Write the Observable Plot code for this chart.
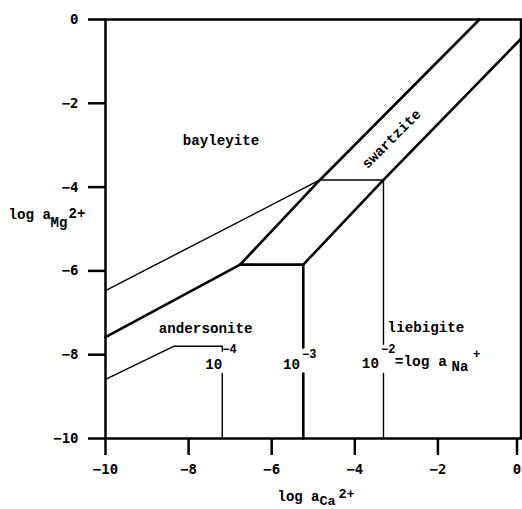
<!DOCTYPE html>
<html>
<head>
<meta charset="utf-8">
<script src="https://cdn.jsdelivr.net/npm/d3@7"></script>
<script src="https://cdn.jsdelivr.net/npm/@observablehq/plot@0.6"></script>
<style>
  html, body { margin: 0; padding: 0; background: #fff; }
</style>
</head>
<body>
<div id="chart"></div>
<script>
// ---- data ----
const xTicks = [-10, -8, -6, -4, -2];
const xTickLast = [0];
const yTicks = [-10, -8, -6, -4, -2, 0];

// thin stability-field boundaries: [log aCa2+, log aMg2+]
const thinBoundaries = [
  [[-10, -6.47], [-4.84, -3.83], [-3.31, -3.83]],
  [[-10, -8.59], [-8.36, -7.80], [-7.19, -7.80], [-7.19, -7.92]],
  [[-7.19, -8.45], [-7.19, -10]],
  [[-3.31, -3.83], [-3.31, -7.75]],
  [[-3.31, -8.45], [-3.31, -10]]
];
// thick boundaries (log aNa+ = -3 and swartzite field)
const thickBoundaries = [
  [[-10, -7.58], [-6.76, -5.85], [-4.84, -3.83], [-1.0, 0]],
  [[-6.76, -5.85], [-5.24, -5.85], [-3.31, -3.83], [0, -0.46]],
  [[-5.24, -5.85], [-5.24, -7.83]],
  [[-5.24, -8.45], [-5.24, -10]]
];

// field names (centred)
const fieldNames = ["bayleyite", "andersonite"];
const fieldX = [-7.22, -7.59];
const fieldY = [-2.89, -7.37];
// field name (left-aligned)
const liebigiteName = "liebigite";
const liebigiteXY = [-3.21, -7.34];
const swartziteName = "swartzite";
const swartziteXY = [-3.12, -2.85];

// log aNa+ contour labels
const naBase = ["10", "10", "10"];
const naExp = ["\u22124", "\u22123", "\u22122"];
const naX = [-7.60, -5.73, -3.83];
const naY = [-8.33, -8.33, -8.31];
const naExpX = [-7.19, -5.27, -3.37];
const naExpY = [-7.97, -8.09, -7.95];

// ---- build tables ----
function toRows(lines) {
  const rows = [];
  lines.forEach((pts, i) => pts.forEach(([x, y]) => rows.push({id: i, x, y})));
  return rows;
}
const thinRows = toRows(thinBoundaries);
const thickRows = toRows(thickBoundaries);
const fieldRows = fieldNames.map((t, i) => ({t, x: fieldX[i], y: fieldY[i]}));
const naRows = naBase.map((t, i) => ({t, e: naExp[i], x: naX[i], y: naY[i], ex: naExpX[i], ey: naExpY[i]}));

const mono = "'Liberation Mono', 'DejaVu Sans Mono', monospace";
const tickFont = "'DejaVu Sans Mono', 'Liberation Mono', monospace";
const fmt = d => d === 0 ? "0" : "\u2212" + Math.abs(d);
const T = {fontFamily: mono, fontWeight: "bold", fill: "#000", textAnchor: "start", lineAnchor: "bottom"};
const F = {fontFamily: mono, fontWeight: "bold", fontSize: 14.2, fill: "#000"};

const chart = Plot.plot({
  width: 522,
  height: 509,
  marginLeft: 105,
  marginRight: 1.5,
  marginTop: 19,
  marginBottom: 71,
  x: {domain: [-10, 0]},
  y: {domain: [-10, 0]},
  style: {background: "#fff", color: "#000"},
  marks: [
    Plot.axisX({ticks: xTicks, tickSize: 17, tickPadding: 9, strokeWidth: 2.5, tickFormat: fmt, label: null,
      fontSize: 14, fontWeight: "bold", fontFamily: tickFont}),
    Plot.axisX({ticks: xTickLast, tickSize: 17, tickPadding: 9, strokeWidth: 2.5, tickFormat: fmt, label: null, dx: -4,
      fontSize: 14, fontWeight: "bold", fontFamily: tickFont}),
    Plot.axisY({ticks: yTicks, tickSize: 17, tickPadding: 10, strokeWidth: 2.5, tickFormat: fmt, label: null,
      fontSize: 14, fontWeight: "bold", fontFamily: tickFont}),
    Plot.frame({stroke: "#000", strokeWidth: 2.5}),
    Plot.line(thinRows, {x: "x", y: "y", z: "id", stroke: "#000", strokeWidth: 1.4}),
    Plot.line(thickRows, {x: "x", y: "y", z: "id", stroke: "#000", strokeWidth: 2.6}),
    Plot.text(fieldRows, {...F, x: "x", y: "y", text: "t"}),
    Plot.text([liebigiteName], {...F, x: liebigiteXY[0], y: liebigiteXY[1], text: d => d, textAnchor: "start"}),
    Plot.text([swartziteName], {...F, x: swartziteXY[0], y: swartziteXY[1], text: d => d, rotate: -45}),
    // contour labels 10^-n
    Plot.text(naRows, {...T, x: "x", y: "y", text: "t", fontSize: 14.2}),
    Plot.text(naRows, {...T, x: "ex", y: "ey", text: "e", fontSize: 12}),
    Plot.text(["=log a"], {...T, x: -3.04, y: -8.26, text: d => d, fontSize: 14.5}),
    Plot.text(["Na"], {...T, x: -1.67, y: -8.40, text: d => d, fontSize: 14}),
    Plot.text(["+"], {...T, x: -1.16, y: -8.07, text: d => d, fontSize: 13}),
    // y axis title: log a_Mg 2+
    Plot.text(["log a"], {...T, x: -10, y: -4.75, dx: -97, text: d => d, fontSize: 14.2}),
    Plot.text(["Mg"], {...T, x: -10, y: -4.75, dx: -55, dy: 8, text: d => d, fontSize: 14}),
    Plot.text(["2+"], {...T, x: -10, y: -4.75, dx: -37, dy: -1, text: d => d, fontSize: 14}),
    // x axis title: log a_Ca 2+
    Plot.text(["log a"], {...T, x: -10, y: -10, dx: 172, dy: 62, text: d => d, fontSize: 14}),
    Plot.text(["Ca"], {...T, x: -10, y: -10, dx: 214, dy: 66.5, text: d => d, fontSize: 13.5}),
    Plot.text(["2+"], {...T, x: -10, y: -10, dx: 233, dy: 59, text: d => d, fontSize: 13.5})
  ]
});
document.getElementById("chart").append(chart);
</script>
</body>
</html>
